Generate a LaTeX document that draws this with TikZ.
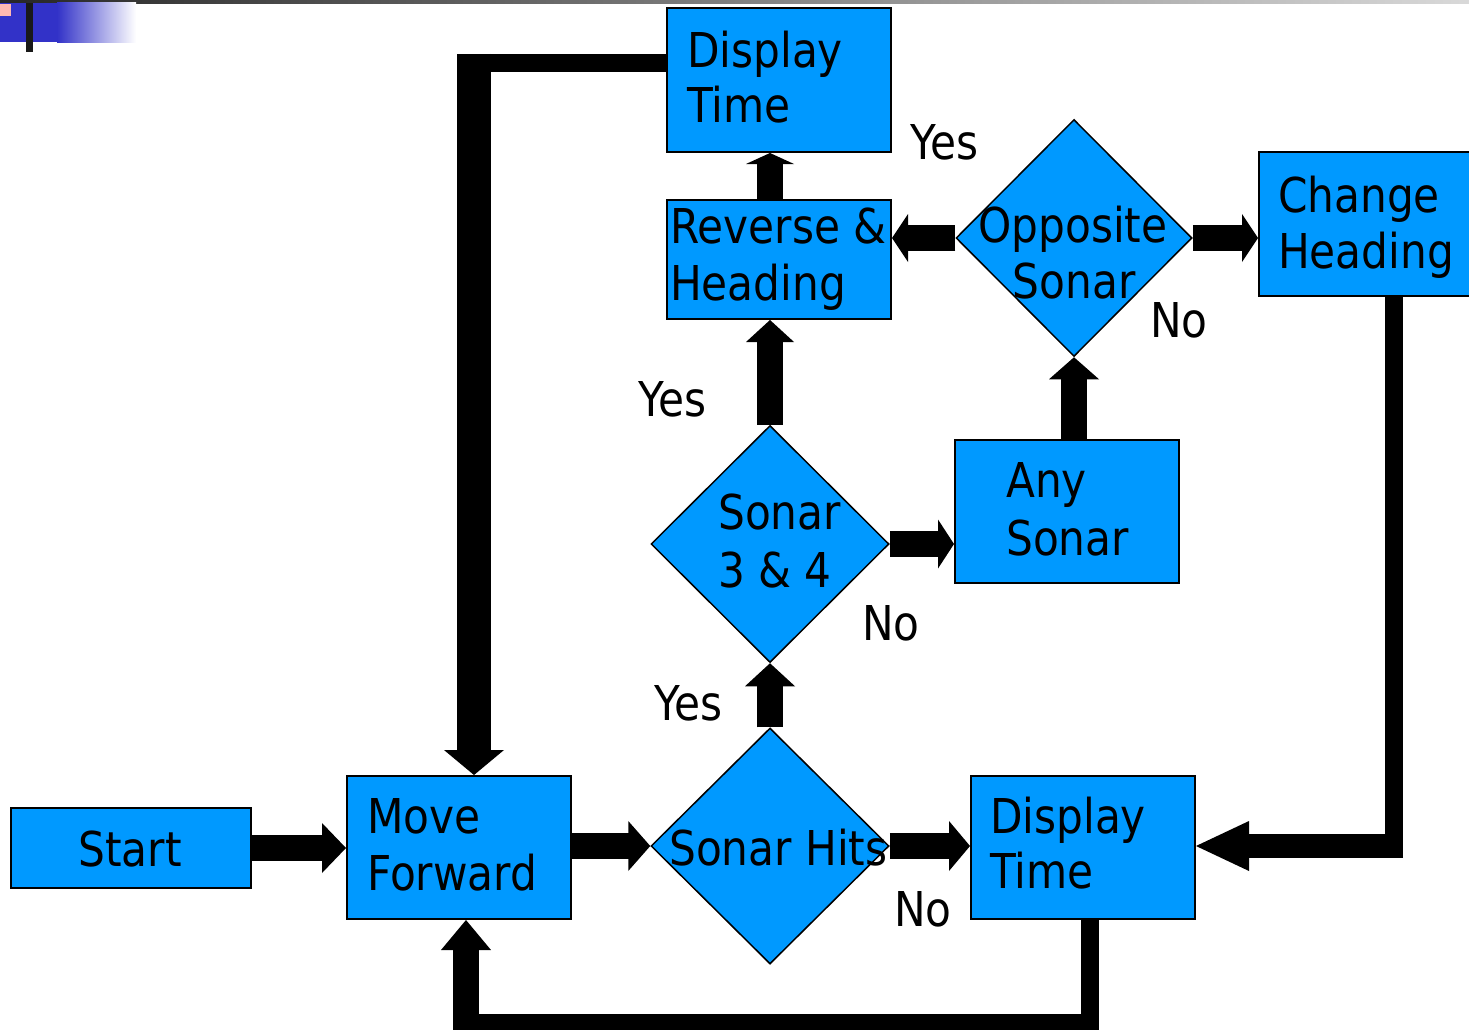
\documentclass[tikz,border=0pt]{standalone}
\usepackage{fontspec}
\setmainfont{DejaVu Sans}[FakeStretch=0.88]
\usetikzlibrary{shapes.geometric,calc}

\definecolor{boxblue}{RGB}{0,153,255}
\definecolor{barblue}{RGB}{50,50,200}
\definecolor{pinkish}{RGB}{255,185,178}

% thick block arrow: from, to, direction angle, shaft width, head width, head length
\newcommand\blockarrow[6]{%
  \draw[line width=#4pt, shorten >=#6pt-0.5pt] #1 -- #2;
  \fill[shift={#2}, rotate=#3] (0,0) -- (-#6,#5/2) -- (-#6,-#5/2) -- cycle;
}

\tikzset{
  procbox/.style={rectangle, draw=black, line width=2pt, fill=boxblue,
    inner sep=0pt, anchor=north west},
  decision/.style={diamond, draw=black, line width=1.5pt, fill=boxblue,
    inner sep=0pt, minimum width=238pt, minimum height=236pt},
  txt/.style={inner sep=0pt, font=\fontsize{48}{57}\selectfont},
}

\begin{document}
\begin{tikzpicture}[x=1pt, y=-1pt]
\useasboundingbox (0,0) rectangle (1469,1030);
\clip (0,0) rectangle (1469,1030);

% slide header ornament
\shade[left color=black!85, right color=black!15] (0,0) rectangle (1469,3.5);
\fill[barblue] (0,3) rectangle (58,42);
\shade[left color=barblue, right color=white] (57,3) rectangle (136,43);
\fill[pinkish] (0,4) rectangle (11,16);
\fill[black!90] (26,3) rectangle (33,52);

% process boxes
\node[procbox, minimum width=240pt, minimum height=80pt]  (start) at (10,807)  {};
\node[procbox, minimum width=224pt, minimum height=143pt] (mf)    at (346,775) {};
\node[procbox, minimum width=224pt, minimum height=143pt] (dt2)   at (970,775) {};
\node[procbox, minimum width=224pt, minimum height=143pt] (any)   at (954,439) {};
\node[procbox, minimum width=220pt, minimum height=144pt] (ch)    at (1258,151) {};
\node[procbox, minimum width=224pt, minimum height=119pt] (rev)   at (666,199) {};
\node[procbox, minimum width=224pt, minimum height=144pt] (dt1)   at (666,7)   {};

% decisions
\node[decision] (hits) at (770,846) {};
\node[decision, minimum height=237pt] (s34) at (770,544) {};
\node[decision, minimum width=236pt, minimum height=237pt] (opp) at (1074,238) {};

% straight connectors
\blockarrow{(start.east)}{(start.east -| mf.west)}{0}{26}{50}{24}
\blockarrow{(hits.west -| mf.east)}{(hits.west)}{0}{26}{50}{22}
\blockarrow{(hits.east)}{(hits.east -| dt2.west)}{0}{26}{50}{21}
\blockarrow{(hits.north)}{(s34.south)}{90}{26}{50}{23}
\blockarrow{(s34.east)}{(s34.east -| any.west)}{0}{26}{49}{16}
\blockarrow{(s34.north)}{(s34.north |- rev.south)}{90}{26}{48}{22}
\blockarrow{(opp.south |- any.north)}{(opp.south)}{90}{26}{50}{22}
\blockarrow{(opp.west)}{(opp.west -| rev.east)}{180}{26}{48}{16}
\blockarrow{(opp.east)}{(opp.east -| ch.west)}{0}{26}{48}{16}
\blockarrow{(s34.north |- rev.north)}{(s34.north |- dt1.south)}{90}{26}{48}{11}

% loop back from the upper time display
\coordinate (tlElbow) at (457,63);
\coordinate (tlTurn) at (474,54);
\draw[line width=18pt] (dt1.west |- tlElbow) -- (tlElbow);
\blockarrow{(tlTurn)}{(tlTurn |- mf.north)}{-90}{34}{60}{25}

% loop back from the lower time display
\coordinate (brDown) at (1090,1036);
\coordinate (brElbow) at (1099,1024);
\coordinate (blElbow) at (453,1024);
\coordinate (blUp) at (466,1036);
\draw[line width=18pt] (dt2.south -| brDown) -- (brDown);
\draw[line width=20pt] (brElbow) -- (blElbow);
\blockarrow{(blUp)}{(blUp |- mf.south)}{90}{26}{50}{30}

% route from the heading change into the lower time display
\coordinate (rTurn) at (1394,858);
\coordinate (rElbow) at (1403,846);
\draw[line width=18pt] (ch.south -| rTurn) -- (rTurn);
\blockarrow{(rElbow)}{(rElbow -| dt2.east)}{180}{24}{50}{53}

% box texts
\node[txt, anchor=base] (startT) at (130,866) {Start};
\node[txt, anchor=base west] (mfA) at (367,833) {Move};
\node[txt, anchor=base west] (mfB) at (367,890) {Forward};
\node[txt, anchor=base west] (hitsT) at (669,865) {Sonar Hits};
\node[txt, anchor=base west] (dt2A) at (990,833) {Display};
\node[txt, anchor=base west] (dt2B) at (990,888) {Time};
\node[txt, anchor=base west] (s34A) at (718,529) {Sonar};
\node[txt, anchor=base west] (s34B) at (718,587) {3 \& 4};
\node[txt, anchor=base west] (anyA) at (1006,497) {Any};
\node[txt, anchor=base west] (anyB) at (1006,555) {Sonar};
\node[txt, anchor=base] (oppA) at (1073,242) {Opposite};
\node[txt, anchor=base] (oppB) at (1074,298) {Sonar};
\node[txt, anchor=base west] (chA) at (1278,212) {Change};
\node[txt, anchor=base west] (chB) at (1278,268) {Heading};
\node[txt, anchor=base west] (revA) at (670,243) {Reverse \&};
\node[txt, anchor=base west] (revB) at (670,300) {Heading};
\node[txt, anchor=base west] (dt1A) at (687,68) {Display};
\node[txt, anchor=base west] (dt1B) at (687,123) {Time};

% branch labels
\node[txt, anchor=base west] (yes1) at (910,160) {Yes};
\node[txt, anchor=base west] (no1)  at (1150,337) {No};
\node[txt, anchor=base west] (yes2) at (638,416) {Yes};
\node[txt, anchor=base west] (no2)  at (862,640) {No};
\node[txt, anchor=base west] (yes3) at (654,720) {Yes};
\node[txt, anchor=base west] (no3)  at (894,926) {No};
\end{tikzpicture}
\end{document}
